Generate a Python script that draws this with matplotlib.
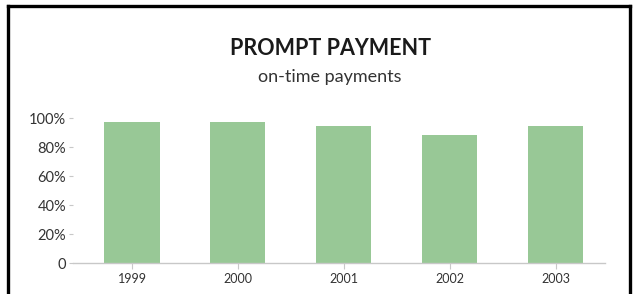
import matplotlib.pyplot as plt
from matplotlib.lines import Line2D

years = ["1999", "2000", "2001", "2002", "2003"]
on_time = [97, 97, 94.5, 88, 94.5]
y_ticks = [0, 20, 40, 60, 80, 100]
y_labels = ["0", "20%", "40%", "60%", "80%", "100%"]

plt.rcParams['font.family'] = ['Lato', 'DejaVu Sans']

fig = plt.figure(figsize=(6.35, 2.94), dpi=100)
ax = fig.add_axes([0.115, 0.1054, 0.838, 0.4932])

ax.bar(range(len(years)), on_time, width=0.52, color='#98c896')
ax.set_xlim(-0.557, 4.467)
ax.set_ylim(0, 100)

ax.set_xticks(range(len(years)))
ax.set_xticklabels(years, fontsize=9, color='#333333')
ax.set_yticks(y_ticks)
ax.set_yticklabels(y_labels, fontsize=10.5, color='#333333')
ax.tick_params(axis='x', length=4, color='#c8c8c8', pad=3)
ax.tick_params(axis='y', length=3, color='#c8c8c8', pad=2)

for s in ['top', 'right', 'left']:
    ax.spines[s].set_visible(False)
ax.spines['bottom'].set_color('#c8c8c8')
ax.spines['bottom'].set_linewidth(1)

fig.text(0.52, 0.835, "PROMPT PAYMENT", ha='center', va='center',
         fontsize=15.5, fontweight='bold', color='#1a1a1a')
fig.text(0.52, 0.738, "on-time payments", ha='center', va='center',
         fontsize=13, color='#333333')

# frame around the chart (bottom edge is cut off)
W, H = 635, 294
fig.add_artist(Line2D([8 / W, 8 / W], [0, 1 - 6 / H], color='black', lw=2.4))
fig.add_artist(Line2D([8 / W, 630 / W], [1 - 6 / H, 1 - 6 / H], color='black', lw=2.4))
fig.add_artist(Line2D([630 / W, 630 / W], [0, 1 - 6 / H], color='black', lw=2.4))

plt.savefig('out.png', dpi=100)
